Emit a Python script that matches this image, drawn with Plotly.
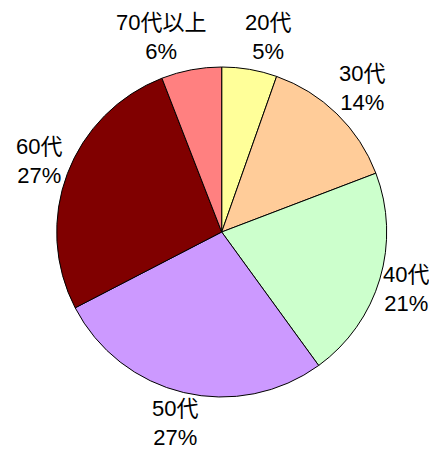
import math
import plotly.graph_objects as go

labels = ["20代", "30代", "40代", "50代", "60代", "70代以上"]
values = [5.4, 13.8, 20.8, 27.4, 26.7, 5.9]
colors = ["#FFFF99", "#FFCC99", "#CCFFCC", "#CC99FF", "#800000", "#FF8080"]

# figure size (browser body adds an 8px margin)
W, H = 429, 444
CX, CY, R = 213.7, 224.0, 165.0   # pie centre / radius in figure pixels (from top-left)
LABEL_R = 1.22                     # label distance in pie radii
FONT_SIZE = 22
LINE_H = 1.3 * FONT_SIZE
MIN_GAP = 39                       # minimum horizontal gap between neighbouring labels
EDGE_PAD = 8

fig = go.Figure(go.Pie(
    labels=labels,
    values=values,
    sort=False,
    direction="clockwise",
    rotation=0,
    marker=dict(colors=colors, line=dict(color="black", width=1)),
    textinfo="none",
    showlegend=False,
    hoverinfo="skip",
    domain=dict(x=[(CX - R) / W, (CX + R) / W], y=[(H - CY - R) / H, (H - CY + R) / H]),
))


def text_width(s, size):
    w = 0.0
    for ch in s:
        if ord(ch) > 0x2E80:
            w += 1.0
        elif ch == "%":
            w += 0.889
        else:
            w += 0.556
    return w * size


total = sum(values)
cum = 0.0
items = []
for lab, v in zip(labels, values):
    mid = (cum + v / 2) / total * 2 * math.pi
    cum += v
    pct = f"{round(v / total * 100)}%"
    items.append(dict(
        text=f"{lab}<br>{pct}",
        x=CX + LABEL_R * R * math.sin(mid),
        y=CY - LABEL_R * R * math.cos(mid),
        w=max(text_width(lab, FONT_SIZE), text_width(pct, FONT_SIZE)),
        h=2 * LINE_H,
    ))

# push neighbouring labels apart when they sit at the same height
n = len(items)
for i in range(n):
    a, b = items[i - 1], items[i]      # a precedes b clockwise
    if abs(a["y"] - b["y"]) < (a["h"] + b["h"]) / 2:
        left, right = (a, b) if a["x"] < b["x"] else (b, a)
        gap = (right["x"] - right["w"] / 2) - (left["x"] + left["w"] / 2)
        if gap < MIN_GAP:
            need = MIN_GAP - gap
            tw = left["w"] + right["w"]
            left["x"] -= need * left["w"] / tw
            right["x"] += need * right["w"] / tw

# keep labels inside the figure
for it in items:
    it["x"] = min(max(it["x"], it["w"] / 2 + EDGE_PAD), W - it["w"] / 2 - EDGE_PAD)
    it["y"] = min(max(it["y"], it["h"] / 2), H - it["h"] / 2)

annotations = [
    dict(
        x=it["x"] / W, y=(H - it["y"]) / H, xref="paper", yref="paper",
        text=it["text"], showarrow=False, xanchor="center", yanchor="middle", align="center",
        font=dict(family="Liberation Sans, Arial, Noto Sans CJK JP, sans-serif", size=FONT_SIZE, color="black"),
    )
    for it in items
]

fig.update_layout(
    width=W, height=H,
    margin=dict(l=0, r=0, t=0, b=0),
    paper_bgcolor="white",
    plot_bgcolor="white",
    annotations=annotations,
)
fig.write_html("out.html")
